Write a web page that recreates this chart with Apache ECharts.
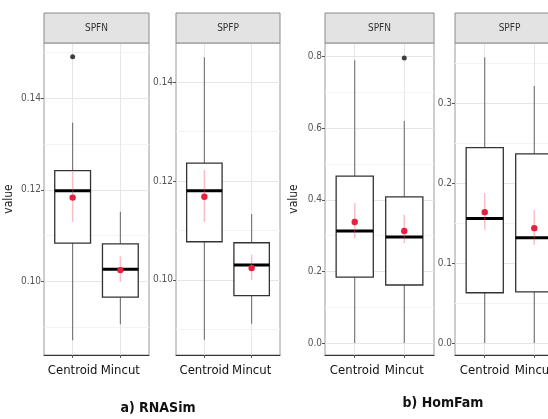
<!DOCTYPE html>
<html>
<head>
<meta charset="utf-8">
<script src="https://cdn.jsdelivr.net/npm/echarts@6/dist/echarts.min.js"></script>
<style>html,body{margin:0;padding:0;background:#fff}#c{width:548px;height:419px}</style>
</head>
<body>
<div id="c"></div>
<script>
// ---- data ----
const categories = ['Centroid', 'Mincut'];
const categoryPos = [1, 2];
const panelNames = ['SPFN', 'SPFP', 'SPFN', 'SPFP'];
const groupTitles = ['a) RNASim', 'b) HomFam'];

// box stats: [min, q1, median, q3, max] for Centroid, Mincut
const rnaSpfnBox = [[0.0872, 0.1084, 0.1198, 0.1242, 0.1346], [0.0907, 0.0966, 0.1027, 0.1082, 0.1152]];
const rnaSpfpBox = [[0.0879, 0.1077, 0.1180, 0.1236, 0.1450], [0.0911, 0.0968, 0.1030, 0.1075, 0.1133]];
const homSpfnBox = [[0.0, 0.184, 0.313, 0.466, 0.790], [0.0, 0.162, 0.296, 0.408, 0.620]];
const homSpfpBox = [[0.0, 0.063, 0.156, 0.245, 0.358], [0.0, 0.064, 0.132, 0.237, 0.322]];

// mean, lower, upper
const rnaSpfnMean = [[0.1183, 0.1130, 0.1239], [0.1025, 0.0999, 0.1055]];
const rnaSpfpMean = [[0.1168, 0.1117, 0.1222], [0.1024, 0.1000, 0.1051]];
const homSpfnMean = [[0.338, 0.293, 0.391], [0.313, 0.279, 0.358]];
const homSpfpMean = [[0.164, 0.142, 0.188], [0.144, 0.123, 0.167]];

// outliers: [category position, value]
const rnaSpfnOut = [[1, 0.149]];
const rnaSpfpOut = [];
const homSpfnOut = [[2, 0.796]];
const homSpfpOut = [];

// axis ranges and ticks
const xRange = [0.4, 2.6];
const yRanges = [[0.084, 0.152], [0.0848, 0.1479], [-0.0335, 0.838], [-0.015, 0.376]];
const yMajor = [[0.10, 0.12, 0.14], [0.10, 0.12, 0.14], [0.0, 0.2, 0.4, 0.6, 0.8], [0.0, 0.1, 0.2, 0.3]];
const yMinor = [[0.09, 0.11, 0.13, 0.15], [0.09, 0.11, 0.13], [0.1, 0.3, 0.5, 0.7], [0.05, 0.15, 0.25, 0.35]];
const yDecimals = [2, 2, 1, 1];

// ---- layout ----
const panelLeft = [44, 176, 325, 455];
const panelWidth = [105, 104, 109, 109];
const panelTop = 43, panelHeight = 312, stripTop = 13, stripH = 30;
const FONT = '"Liberation Sans Narrow", "DejaVu Sans Condensed", "Liberation Sans", sans-serif';

const boxes = [rnaSpfnBox, rnaSpfpBox, homSpfnBox, homSpfpBox];
const means = [rnaSpfnMean, rnaSpfpMean, homSpfnMean, homSpfpMean];
const outs = [rnaSpfnOut, rnaSpfpOut, homSpfnOut, homSpfpOut];

function renderBox(params, api) {
  const i = api.value(0);
  const lo = api.coord([i, api.value(1)]);
  const q1 = api.coord([i, api.value(2)]);
  const md = api.coord([i, api.value(3)]);
  const q3 = api.coord([i, api.value(4)]);
  const hi = api.coord([i, api.value(5)]);
  const bw = api.size([0.75, 0])[0];
  const xc = md[0];
  return {
    type: 'group', children: [
      { type: 'line', shape: { x1: xc, y1: hi[1], x2: xc, y2: q3[1] }, style: { stroke: '#707070', lineWidth: 1.1 } },
      { type: 'line', shape: { x1: xc, y1: q1[1], x2: xc, y2: lo[1] }, style: { stroke: '#707070', lineWidth: 1.1 } },
      { type: 'rect', shape: { x: xc - bw / 2, y: q3[1], width: bw, height: q1[1] - q3[1] }, style: { fill: '#fff', stroke: '#333', lineWidth: 1.3 } },
      { type: 'line', shape: { x1: xc - bw / 2, y1: md[1], x2: xc + bw / 2, y2: md[1] }, style: { stroke: '#000', lineWidth: 3 } }
    ]
  };
}

function renderMean(params, api) {
  const i = api.value(0);
  const m = api.coord([i, api.value(1)]);
  const l = api.coord([i, api.value(2)]);
  const u = api.coord([i, api.value(3)]);
  return {
    type: 'group', children: [
      { type: 'line', shape: { x1: m[0], y1: l[1], x2: m[0], y2: u[1] }, style: { stroke: 'rgba(235,70,95,0.35)', lineWidth: 1.5 } },
      { type: 'circle', shape: { cx: m[0], cy: m[1], r: 3.2 }, style: { fill: '#e5213f' } }
    ]
  };
}

const option = { animation: false, grid: [], xAxis: [], yAxis: [], series: [], graphic: [] };

for (let p = 0; p < 4; p++) {
  option.grid.push({ left: panelLeft[p], top: panelTop, width: panelWidth[p], height: panelHeight,
    outerBoundsMode: 'none', containLabel: false,
    show: true, borderColor: '#9a9a9a', borderWidth: 1, backgroundColor: '#fff' });
  option.xAxis.push({ type: 'value', gridIndex: p, min: xRange[0], max: xRange[1],
    axisLine: { show: true, onZero: false, lineStyle: { color: '#333', width: 1 } },
    axisTick: { show: true, length: 3, lineStyle: { color: '#555' }, customValues: categoryPos },
    axisLabel: { color: '#111', fontSize: 13, fontFamily: FONT, margin: 9, customValues: categoryPos,
      hideOverlap: false, formatter: v => categories[Math.round(v) - 1] },
    splitLine: { show: true, lineStyle: { color: '#e6e6e6', width: 1 } } });
  const dec = yDecimals[p];
  option.yAxis.push({ type: 'value', gridIndex: p, min: yRanges[p][0], max: yRanges[p][1],
    name: (p === 0 || p === 2) ? 'value' : '', nameLocation: 'middle', nameRotate: 90,
    nameGap: p === 0 ? 29 : 25,
    nameTextStyle: { color: '#222', fontSize: 12, fontFamily: FONT },
    axisLine: { show: false },
    axisTick: { show: true, length: 3, lineStyle: { color: '#555' }, customValues: yMajor[p] },
    axisLabel: { color: '#555', fontSize: 10, fontFamily: FONT, margin: 3, customValues: yMajor[p],
      formatter: v => v.toFixed(dec) },
    splitLine: { show: true, lineStyle: { color: '#e6e6e6', width: 1 } } });
  option.yAxis.push({ type: 'value', gridIndex: p, min: yRanges[p][0], max: yRanges[p][1], position: 'left',
    axisLine: { show: false }, axisLabel: { show: false },
    axisTick: { show: false, customValues: yMinor[p] },
    splitLine: { show: true, lineStyle: { color: '#f3f3f3', width: 1 } } });

  option.series.push({ type: 'custom', xAxisIndex: p, yAxisIndex: 2 * p, renderItem: renderBox, z: 2,
    encode: { x: 0, y: [1, 2, 3, 4, 5] },
    data: boxes[p].map((b, i) => [categoryPos[i]].concat(b)) });
  option.series.push({ type: 'custom', xAxisIndex: p, yAxisIndex: 2 * p, renderItem: renderMean, z: 3,
    encode: { x: 0, y: [1, 2, 3] },
    data: means[p].map((m, i) => [categoryPos[i]].concat(m)) });
  option.series.push({ type: 'scatter', xAxisIndex: p, yAxisIndex: 2 * p, z: 4, symbol: 'circle', symbolSize: 5,
    itemStyle: { color: '#111' }, data: outs[p] });

  option.graphic.push({ type: 'rect', shape: { x: panelLeft[p], y: stripTop, width: panelWidth[p], height: stripH },
    style: { fill: '#e3e3e3', stroke: '#8a8a8a', lineWidth: 1 }, z: 10 });
  option.graphic.push({ type: 'text', x: panelLeft[p] + panelWidth[p] / 2, y: stripTop + stripH / 2,
    style: { text: panelNames[p], fill: '#333', fontSize: 10, fontFamily: FONT, align: 'center', verticalAlign: 'middle' }, z: 11 });
}
option.graphic.push({ type: 'text', x: 158, y: 408, style: { text: groupTitles[0], fill: '#111', fontSize: 14, fontWeight: 'bold', fontFamily: FONT, align: 'center', verticalAlign: 'middle' } });
option.graphic.push({ type: 'text', x: 443, y: 403, style: { text: groupTitles[1], fill: '#111', fontSize: 14, fontWeight: 'bold', fontFamily: FONT, align: 'center', verticalAlign: 'middle' } });

const chart = echarts.init(document.getElementById('c'), null, { renderer: 'canvas' });
chart.setOption(option);
</script>
</body>
</html>
